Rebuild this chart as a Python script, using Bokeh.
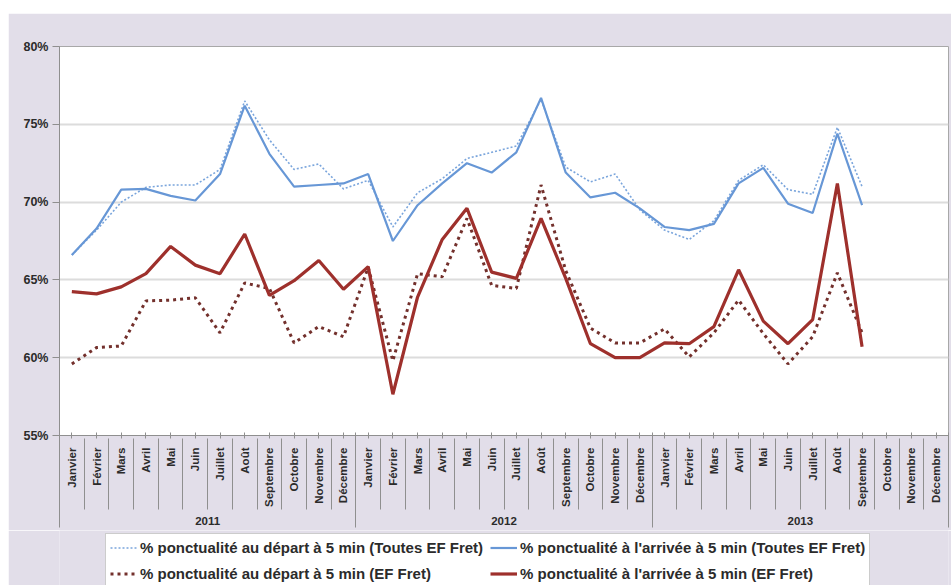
import numpy as np
from bokeh.plotting import figure
from bokeh.layouts import column
from bokeh.models import (Range1d, LinearAxis, FixedTicker, Legend, LegendItem,
                          ColumnDataSource, PrintfTickFormatter)
from bokeh.embed import file_html
from bokeh.resources import INLINE

# ---------------- data ----------------
years = ["2011", "2012", "2013"]
months = ["Janvier", "Février", "Mars", "Avril", "Mai", "Juin", "Juillet",
          "Août", "Septembre", "Octobre", "Novembre", "Décembre"]
y_ticks = [55, 60, 65, 70, 75, 80]

# Jan 2011 .. Sep 2013 (33 months)
dep_toutes = [66.6, 68.2, 70.0, 70.95, 71.1, 71.1, 72.1, 76.5, 74.0, 72.1, 72.45, 70.85,
              71.4, 68.4, 70.6, 71.5, 72.8, 73.2, 73.6, 76.6, 72.25, 71.3, 71.8, 69.5,
              68.2, 67.6, 68.8, 71.4, 72.4, 70.8, 70.5, 74.8, 71.0]
arr_toutes = [66.6, 68.3, 70.8, 70.85, 70.4, 70.1, 71.8, 76.2, 73.1, 71.0, 71.1, 71.2,
              71.8, 67.5, 69.8, 71.2, 72.5, 71.9, 73.2, 76.7, 71.9, 70.3, 70.6, 69.6,
              68.4, 68.2, 68.6, 71.2, 72.2, 69.9, 69.3, 74.4, 69.8]
dep_ef = [59.6, 60.65, 60.75, 63.65, 63.7, 63.85, 61.6, 64.8, 64.45, 60.95, 62.0, 61.35,
          65.8, 59.8, 65.4, 65.2, 68.95, 64.65, 64.45, 71.1, 65.6, 61.9, 60.95, 60.95,
          61.85, 60.05, 61.6, 63.7, 61.55, 59.6, 61.35, 65.45, 61.6]
arr_ef = [64.25, 64.1, 64.55, 65.4, 67.15, 65.95, 65.4, 67.95, 64.0, 64.95, 66.25, 64.4,
          65.85, 57.65, 63.9, 67.6, 69.6, 65.5, 65.1, 68.95, 65.1, 60.9, 60.0, 60.0,
          60.95, 60.9, 62.0, 65.65, 62.35, 60.9, 62.45, 71.2, 60.7]

labels = ["% ponctualité au départ à 5 min (Toutes EF Fret)",
          "% ponctualité à l'arrivée à 5 min (Toutes EF Fret)",
          "% ponctualité au départ à 5 min (EF Fret)",
          "% ponctualité à l'arrivée à 5 min (EF Fret)"]

# ---------------- positions (category slots: 2 units each) ----------------
n_cat = len(years) * len(months)
n = len(arr_ef)
x = [2 * i + 1 for i in range(n)]
src = ColumnDataSource(dict(x=x, dep_toutes=dep_toutes, arr_toutes=arr_toutes,
                            dep_ef=dep_ef, arr_ef=arr_ef))

FONT = "Liberation Sans"
TXT = "#2b2b2b"
PANEL = "#e2dee9"
AXIS = "#8f8f8f"

BLUE = "#6797d6"
BLUE_D = "#7aa5dc"
RED = "#9e302c"
RED_D = "#73302c"
styles = [dict(line_color=BLUE_D, line_width=1.6, line_dash="2 2"),
          dict(line_color=BLUE, line_width=2.2),
          dict(line_color=RED_D, line_width=3, line_dash="3 4"),
          dict(line_color=RED, line_width=3.2)]
cols = ["dep_toutes", "arr_toutes", "dep_ef", "arr_ef"]

p = figure(width=943, height=517, output_backend="svg", toolbar_location=None,
           x_range=Range1d(0, 2 * n_cat), y_range=Range1d(y_ticks[0], y_ticks[-1]),
           x_axis_location=None, y_axis_location=None, tools="")
p.margin = (13, 0, 0, 8)
p.min_border_left = 51
p.min_border_top = 33
p.min_border_right = 3
p.min_border_bottom = 95
p.border_fill_color = PANEL
p.background_fill_color = "white"
p.outline_line_color = "#a8a8a8"
p.outline_line_width = 1

# y axis
yaxis = LinearAxis(ticker=FixedTicker(ticks=y_ticks),
                   formatter=PrintfTickFormatter(format="%d%%"))
yaxis.axis_line_color = AXIS
yaxis.major_tick_line_color = AXIS
yaxis.major_tick_out = 7
yaxis.major_tick_in = 0
yaxis.minor_tick_line_color = None
yaxis.major_label_standoff = 4
yaxis.major_label_text_font = FONT
yaxis.major_label_text_font_style = "bold"
yaxis.major_label_text_font_size = "12.5px"
yaxis.major_label_text_color = TXT
p.add_layout(yaxis, "left")

p.ygrid.ticker = FixedTicker(ticks=y_ticks)
p.ygrid.grid_line_color = "#dcdcdc"
p.ygrid.grid_line_width = 2
p.xgrid.visible = False

def style_labels(ax):
    ax.major_label_text_font = FONT
    ax.major_label_text_font_style = "bold"
    ax.major_label_text_font_size = "11.5px"
    ax.major_label_text_color = TXT

# month axis (labels + small centre ticks)
m_ticks = [2 * i + 1 for i in range(n_cat)]
m_bounds = [2 * i for i in range(n_cat + 1)]
maxis = LinearAxis(ticker=FixedTicker(ticks=m_ticks))
maxis.major_label_overrides = {t: months[i % 12] for i, t in enumerate(m_ticks)}
maxis.major_label_orientation = np.pi / 2
maxis.axis_line_color = AXIS
maxis.major_tick_line_color = AXIS
maxis.major_tick_in = 3
maxis.major_tick_out = 3
maxis.minor_tick_line_color = None
maxis.minor_tick_out = 0
maxis.minor_tick_in = 0
maxis.major_label_standoff = 9
style_labels(maxis)
p.add_layout(maxis, "below")

# year axis (labels) + month separators reaching up through the month labels
y_centers = [24 * k + 12 for k in range(len(years))]
y_bounds = [24 * k for k in range(len(years) + 1)]
yraxis = LinearAxis(ticker=FixedTicker(ticks=y_centers, minor_ticks=m_bounds))
yraxis.major_label_overrides = {t: years[k] for k, t in enumerate(y_centers)}
yraxis.axis_line_color = None
yraxis.major_tick_line_color = None
yraxis.major_tick_in = 0
yraxis.major_tick_out = 0
yraxis.minor_tick_line_color = AXIS
yraxis.minor_tick_in = 71
yraxis.minor_tick_out = 0
yraxis.major_label_standoff = 7
style_labels(yraxis)
p.add_layout(yraxis, "below")

# year separators (no labels), reaching up to the plot frame
sep_axis = LinearAxis(ticker=FixedTicker(ticks=[], minor_ticks=y_bounds))
sep_axis.axis_line_color = None
sep_axis.major_tick_line_color = None
sep_axis.major_tick_in = 0
sep_axis.major_tick_out = 0
sep_axis.major_label_text_font_size = "0px"
sep_axis.major_label_standoff = 0
sep_axis.minor_tick_line_color = AXIS
sep_axis.minor_tick_in = 95
sep_axis.minor_tick_out = 0
p.add_layout(sep_axis, "below")

# data lines
for c, st in zip(cols, styles):
    p.line("x", c, source=src, **st)

# ---------------- legend strip (below the axes) ----------------
# same series, drawn in a strip whose y-range keeps them out of view: only
# their legend samples show
lg = figure(width=943, height=55, output_backend="svg", toolbar_location=None,
            x_range=Range1d(0, 2 * n_cat), y_range=Range1d(0, 1),
            x_axis_location=None, y_axis_location=None, tools="")
lg.margin = (0, 0, 0, 8)
lg.min_border = 0
lg.min_border_left = 0
lg.min_border_right = 0
lg.min_border_top = 0
lg.min_border_bottom = 0
lg.border_fill_color = PANEL
lg.background_fill_color = PANEL
lg.outline_line_color = None
lg.xgrid.visible = False
lg.ygrid.visible = False
lrs = [lg.line("x", c, source=src, **st) for c, st in zip(cols, styles)]

legend = Legend(items=[LegendItem(label=lab, renderers=[r]) for lab, r in zip(labels, lrs)],
                orientation="horizontal", ncols=2, location=(46, -3))
legend.label_text_font = FONT
legend.label_text_font_style = "bold"
legend.label_text_font_size = "15px"
legend.label_text_color = TXT
legend.glyph_width = 27
legend.glyph_height = 19
legend.label_height = 19
legend.label_standoff = 3
legend.spacing = 7
legend.padding = 4
legend.margin = 0
legend.border_line_color = "#9a9a9a"
legend.background_fill_color = "white"
legend.background_fill_alpha = 1.0
lg.add_layout(legend, "center")

layout = column(p, lg, spacing=0)
layout.styles = {"background-color": "white"}
open("out.html", "w").write(file_html(layout, INLINE))
